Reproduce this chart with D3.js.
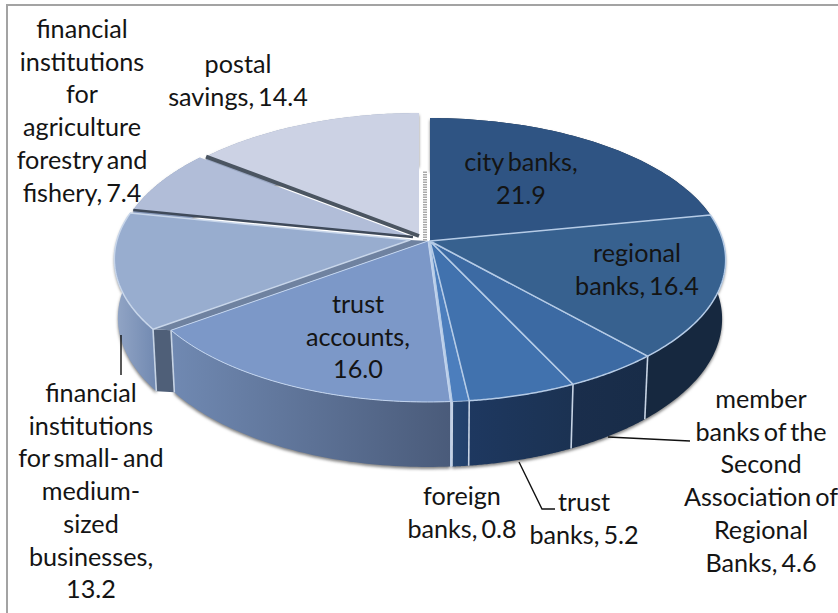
<!DOCTYPE html>
<html>
<head>
<meta charset="utf-8">
<style>
  html, body { margin: 0; padding: 0; background: #fff; overflow: hidden; }
  svg { display: block; }
  text { font-family: Lato, "Noto Sans", sans-serif; font-size: 25.2px; word-spacing: -2.5px; fill: #141414; text-anchor: middle; }
</style>
<script src="https://cdn.jsdelivr.net/npm/d3@7"></script>
</head>
<body>
<svg id="chart" width="838" height="613"></svg>
<script>
// Share of financial assets by holding institution, clockwise from twelve o'clock.
const categories = [
  "city banks",
  "regional banks",
  "member banks of the Second Association of Regional Banks",
  "trust banks",
  "foreign banks",
  "trust accounts",
  "financial institutions for small- and medium-sized businesses",
  "financial institutions for agriculture forestry and fishery",
  "postal savings"
];
const values = [21.9, 16.4, 4.6, 5.2, 0.8, 16.0, 13.2, 7.4, 14.4];

// Words per line for each wrapped label.
const labelBreaks = [[2,1],[1,2],[1,3,1,2,1,2],[1,2],[1,2],[1,1,1],[1,1,3,1,1,1,1],[1,1,1,1,2,2],[1,2]];

// Label anchors: centre x and first baseline.
const labelAnchors = [[521,171],[637,262],[761,408],[584,511],[462,505],[358,313],[91,402],[82,38],[238,73]];
const lineStep = 32.7;

const topFill = ["#2f5483","#37618f","#3c6aa3","#4172ae","#4c7ebd","#7c98c8","#98adcf","#b1bdd8","#ccd2e4"];
const wallFrom = ["#16283f","#16283f","#182c48","#1b3252","#22406c","#4a5b7a","#7189b1","#8a9cbd","#99a6c0"];
const wallTo   = ["#1a2f4a","#16283f","#1a2e4c","#1e3860","#264670","#7089b2","#93a6c6","#8a9cbd","#99a6c0"];
const exploded = [[0,0],[0,0],[0,0],[0,0],[0,0],[-2,0],[-20,-1],[-17,-4],[-11,-5]];
const rimStroke = [null,"#b5cbe6","#b5cbe6","#b5cbe6","#b5cbe6","#c3d5ef","#c8d6ea",null,null];

// Perspective model of the tilted disc.
const cx = 430, cy = 241, rx = 293, ry = 139.4, persp = 0.134, drop = 59, dropPersp = 0.012;

function project(r, angle, h, off) {
  const u = -Math.cos(angle) * r, v = Math.sin(angle) * r;
  const den = 1 - persp * u + dropPersp * h;
  return [cx + off[0] + rx * v / den, cy + off[1] + (ry * u + drop * h) / den];
}

const arcs = d3.pie().sort(null).value(d => d)(values);
const line = d3.line();
const svg = d3.select("#chart");
const defs = svg.append("defs");

// Frame around the plot; its right and bottom sides run off the page.
svg.append("rect").attr("x", 7).attr("y", 5).attr("width", 860).attr("height", 630)
  .attr("fill", "#fff").attr("stroke", "#a3a3a3").attr("stroke-width", 2);

const rim = (a, h) => d3.range(0, 61).map(i => project(1, a.startAngle + (a.endAngle - a.startAngle) * i / 60, h, exploded[a.index]));

// Side walls, laid down first so the top faces cover their hidden parts.
const walls = svg.append("g").style("filter", "drop-shadow(0px 2px 1.5px rgba(60,60,60,.65))");
arcs.slice().reverse().forEach(a => {
  const top = rim(a, 0), bottom = rim(a, 1).reverse();
  const xs = d3.extent(top.concat(bottom), p => p[0]);
  const id = "wall" + a.index;
  const g = defs.append("linearGradient").attr("id", id).attr("gradientUnits", "userSpaceOnUse")
    .attr("x1", xs[1]).attr("x2", xs[0]).attr("y1", 0).attr("y2", 0);
  g.append("stop").attr("offset", 0).attr("stop-color", wallFrom[a.index]);
  g.append("stop").attr("offset", 1).attr("stop-color", wallTo[a.index]);
  walls.append("path").attr("d", line(top.concat(bottom)) + "Z").attr("fill", `url(#${id})`);
});

// Faces exposed where the small-business slice pulls away from trust accounts.
const gapAngle = arcs[6].startAngle;
svg.append("path").attr("fill", "#4f5f78").attr("d", line([
  project(1, gapAngle, 0, exploded[6]), project(1, gapAngle, 0, exploded[5]),
  project(1, gapAngle, 1, exploded[5]), project(1, gapAngle, 1, exploded[6])
]) + "Z");
svg.append("path").attr("fill", "#6f82a0").attr("d", line([
  project(0, 0, 0, exploded[6]), project(1, gapAngle, 0, exploded[6]),
  project(1, gapAngle, 0, exploded[5]), project(0, 0, 0, exploded[5])
]) + "Z");

// Light seam between trust accounts and the slice next to it, on the top and down the wall.
const seamAngle = arcs[5].startAngle;
svg.append("path").attr("fill", "#bcd0ea").attr("d", line([
  project(0, 0, 0, exploded[5]), project(1, seamAngle, 0, exploded[5]), project(1, seamAngle, 1, exploded[5]),
  project(1, seamAngle, 1, exploded[4]), project(1, seamAngle, 0, exploded[4]), project(0, 0, 0, exploded[4])
]) + "Z");

// Wall separators at the slice boundaries on the near side.
arcs.slice(0, 5).forEach(a => {
  svg.append("path").attr("fill", "none").attr("stroke", "#c6d3e4").attr("stroke-width", 1.6)
    .attr("d", line([project(1, a.endAngle, 0, exploded[a.index]), project(1, a.endAngle, 1, exploded[a.index])]));
});
[5, 6].forEach(i => {
  svg.append("path").attr("fill", "none").attr("stroke", "#c6d3e4").attr("stroke-width", 1.6)
    .attr("d", line([project(1, gapAngle, 0, exploded[i]), project(1, gapAngle, 1, exploded[i])]));
});

// Sliver of the first slice's inner face beside the centre.
svg.append("path").attr("fill", "none").attr("stroke", "#a9a9a9").attr("stroke-width", 4)
  .attr("stroke-dasharray", "1.5,1")
  .attr("d", line([project(0.535, arcs[0].startAngle, 0, [-5, 0]), project(0, 0, 0, [-5, 0])]));

// Top faces, far slices first; the second slice is drawn after the first so its light edge stays on top.
const drawOrder = [8, 7, 6, 5, 4, 3, 2, 0, 1];
drawOrder.forEach(i => {
  const a = arcs[i];
  svg.append("path")
    .attr("d", line([project(0, 0, 0, exploded[i])].concat(rim(a, 0))) + "Z")
    .attr("fill", topFill[i])
    .attr("stroke", rimStroke[i] || "none")
    .attr("stroke-width", i === 4 || i === 5 ? 1 : 1.5)
    .attr("stroke-linejoin", "round");
});

// Dark cuts between the pulled-out slices.
const cuts = [[8, arcs[8].startAngle, 4, "#4b5561"], [7, arcs[7].startAngle, 2.5, "#3f4a5a"]];
cuts.forEach(([i, angle, width, colour]) => {
  svg.append("path").attr("fill", "none").attr("stroke", colour).attr("stroke-width", width)
    .attr("d", line([project(0, 0, 0, exploded[i]), project(1, angle, 0, exploded[i])]));
});

// Leader lines for labels placed off their slices.
const leaders = [
  [[121, 335], [121, 375]],
  [[608, 437], [690, 441]],
  [[519, 462], [542, 509], [555, 509]]
];
svg.append("g").selectAll("path").data(leaders).join("path")
  .attr("d", d => line(d)).attr("fill", "none").attr("stroke", "#111").attr("stroke-width", 1.4);

// Data labels, wrapped into the word groups listed above.
categories.forEach((name, i) => {
  const words = `${name}, ${values[i].toFixed(1)}`.match(/[^\s-]+-?\s*/g);
  let at = 0;
  const lines = labelBreaks[i].map(n => {
    const s = words.slice(at, at + n).join("").trim();
    at += n;
    return s;
  });
  const [x, y] = labelAnchors[i];
  svg.append("g").selectAll("text").data(lines).join("text")
    .attr("x", x).attr("y", (d, k) => y + k * lineStep).text(d => d);
});
</script>
</body>
</html>
